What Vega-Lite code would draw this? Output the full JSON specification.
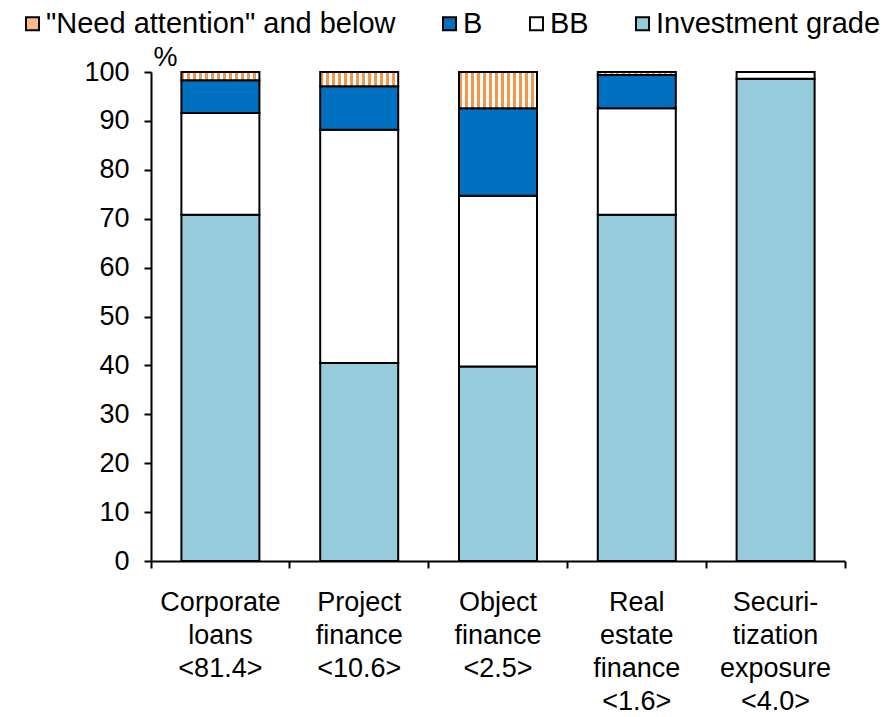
{
  "$schema": "https://vega.github.io/schema/vega-lite/v6.json",
  "autosize": "none",
  "width": 694,
  "height": 489,
  "padding": {"left": 151, "top": 72, "right": 43, "bottom": 156},
  "background": "white",
  "config": {
    "font": "Liberation Sans",
    "view": {"stroke": null},
    "axis": {"grid": false, "domainColor": "black", "domainWidth": 2, "tickColor": "black", "tickWidth": 2, "labelColor": "black", "labelFont": "Liberation Sans", "titleFont": "Liberation Sans", "titleColor": "black"}
  },
  "data": {
    "values": [
      {"cat": "Corporate|loans|<81.4>", "type": "Investment grade", "ord": 1, "value": 70.8},
      {"cat": "Corporate|loans|<81.4>", "type": "BB", "ord": 2, "value": 20.8},
      {"cat": "Corporate|loans|<81.4>", "type": "B", "ord": 3, "value": 6.7},
      {"cat": "Corporate|loans|<81.4>", "type": "\"Need attention\" and below", "ord": 4, "value": 1.7},
      {"cat": "Project|finance|<10.6>", "type": "Investment grade", "ord": 1, "value": 40.5},
      {"cat": "Project|finance|<10.6>", "type": "BB", "ord": 2, "value": 47.7},
      {"cat": "Project|finance|<10.6>", "type": "B", "ord": 3, "value": 8.9},
      {"cat": "Project|finance|<10.6>", "type": "\"Need attention\" and below", "ord": 4, "value": 2.9},
      {"cat": "Object|finance|<2.5>", "type": "Investment grade", "ord": 1, "value": 39.8},
      {"cat": "Object|finance|<2.5>", "type": "BB", "ord": 2, "value": 34.9},
      {"cat": "Object|finance|<2.5>", "type": "B", "ord": 3, "value": 17.9},
      {"cat": "Object|finance|<2.5>", "type": "\"Need attention\" and below", "ord": 4, "value": 7.4},
      {"cat": "Real|estate|finance|<1.6>", "type": "Investment grade", "ord": 1, "value": 70.8},
      {"cat": "Real|estate|finance|<1.6>", "type": "BB", "ord": 2, "value": 21.8},
      {"cat": "Real|estate|finance|<1.6>", "type": "B", "ord": 3, "value": 6.8},
      {"cat": "Real|estate|finance|<1.6>", "type": "\"Need attention\" and below", "ord": 4, "value": 0.6},
      {"cat": "Securi-|tization|exposure|<4.0>", "type": "Investment grade", "ord": 1, "value": 98.6},
      {"cat": "Securi-|tization|exposure|<4.0>", "type": "BB", "ord": 2, "value": 1.4}
    ]
  },
  "mark": {"type": "bar", "width": 78, "stroke": "black", "strokeWidth": 2},
  "encoding": {
    "x": {
      "field": "cat", "type": "nominal", "sort": null,
      "scale": {"paddingInner": 0, "paddingOuter": 0},
      "axis": {
        "title": null, "labelAngle": 0, "labelExpr": "split(datum.label, '|')",
        "labelFontSize": 27, "labelLineHeight": 33, "labelPadding": 21, "tickSize": 7,
        "bandPosition": 1, "tickExtra": true, "labelBaseline": "top"
      }
    },
    "y": {
      "field": "value", "type": "quantitative", "stack": "zero",
      "scale": {"domain": [0, 100], "nice": false},
      "axis": {
        "values": [0, 10, 20, 30, 40, 50, 60, 70, 80, 90, 100],
        "title": "%", "titleAngle": 0, "titleX": 14, "titleY": -7, "titleAlign": "center", "titleBaseline": "alphabetic",
        "titleFontSize": 27, "titleFontWeight": "normal",
        "labelFontSize": 27, "labelPadding": 15, "tickSize": 7
      }
    },
    "order": {"field": "ord", "type": "quantitative", "sort": "ascending"},
    "fill": {
      "condition": {"test": "datum.ord === 4", "value": {"gradient": "linear", "x1": 0, "y1": 0, "x2": 1, "y2": 0, "stops": [
            {"offset": 0, "color": "#F79646"}, {"offset": 0.0385, "color": "#F79646"}, {"offset": 0.0385, "color": "#FFFFFF"}, {"offset": 0.0769, "color": "#FFFFFF"},
            {"offset": 0.0769, "color": "#F79646"}, {"offset": 0.1154, "color": "#F79646"}, {"offset": 0.1154, "color": "#FFFFFF"}, {"offset": 0.1538, "color": "#FFFFFF"},
            {"offset": 0.1538, "color": "#F79646"}, {"offset": 0.1923, "color": "#F79646"}, {"offset": 0.1923, "color": "#FFFFFF"}, {"offset": 0.2308, "color": "#FFFFFF"},
            {"offset": 0.2308, "color": "#F79646"}, {"offset": 0.2692, "color": "#F79646"}, {"offset": 0.2692, "color": "#FFFFFF"}, {"offset": 0.3077, "color": "#FFFFFF"},
            {"offset": 0.3077, "color": "#F79646"}, {"offset": 0.3462, "color": "#F79646"}, {"offset": 0.3462, "color": "#FFFFFF"}, {"offset": 0.3846, "color": "#FFFFFF"},
            {"offset": 0.3846, "color": "#F79646"}, {"offset": 0.4231, "color": "#F79646"}, {"offset": 0.4231, "color": "#FFFFFF"}, {"offset": 0.4615, "color": "#FFFFFF"},
            {"offset": 0.4615, "color": "#F79646"}, {"offset": 0.5, "color": "#F79646"}, {"offset": 0.5, "color": "#FFFFFF"}, {"offset": 0.5385, "color": "#FFFFFF"},
            {"offset": 0.5385, "color": "#F79646"}, {"offset": 0.5769, "color": "#F79646"}, {"offset": 0.5769, "color": "#FFFFFF"}, {"offset": 0.6154, "color": "#FFFFFF"},
            {"offset": 0.6154, "color": "#F79646"}, {"offset": 0.6538, "color": "#F79646"}, {"offset": 0.6538, "color": "#FFFFFF"}, {"offset": 0.6923, "color": "#FFFFFF"},
            {"offset": 0.6923, "color": "#F79646"}, {"offset": 0.7308, "color": "#F79646"}, {"offset": 0.7308, "color": "#FFFFFF"}, {"offset": 0.7692, "color": "#FFFFFF"},
            {"offset": 0.7692, "color": "#F79646"}, {"offset": 0.8077, "color": "#F79646"}, {"offset": 0.8077, "color": "#FFFFFF"}, {"offset": 0.8462, "color": "#FFFFFF"},
            {"offset": 0.8462, "color": "#F79646"}, {"offset": 0.8846, "color": "#F79646"}, {"offset": 0.8846, "color": "#FFFFFF"}, {"offset": 0.9231, "color": "#FFFFFF"},
            {"offset": 0.9231, "color": "#F79646"}, {"offset": 0.9615, "color": "#F79646"}, {"offset": 0.9615, "color": "#FFFFFF"}, {"offset": 1, "color": "#FFFFFF"}
          ]}},
      "field": "type", "type": "nominal",
      "scale": {
        "domain": ["\"Need attention\" and below", "B", "BB", "Investment grade"],
        "range": ["#FAB98A", "#0070C0", "#FFFFFF", "#96CBDC"]
      },
      "legend": {
        "title": null, "orient": "none", "direction": "horizontal", "legendX": -133, "legendY": -63,
        "symbolType": "square", "symbolSize": 169, "symbolStrokeColor": "black", "symbolStrokeWidth": 2, "symbolOpacity": 1, "symbolFillOpacity": 1,
        "labelFontSize": 29, "labelColor": "black", "labelOffset": -1, "columnPadding": 39, "padding": 0, "labelLimit": 500
      }
    }
  }
}
